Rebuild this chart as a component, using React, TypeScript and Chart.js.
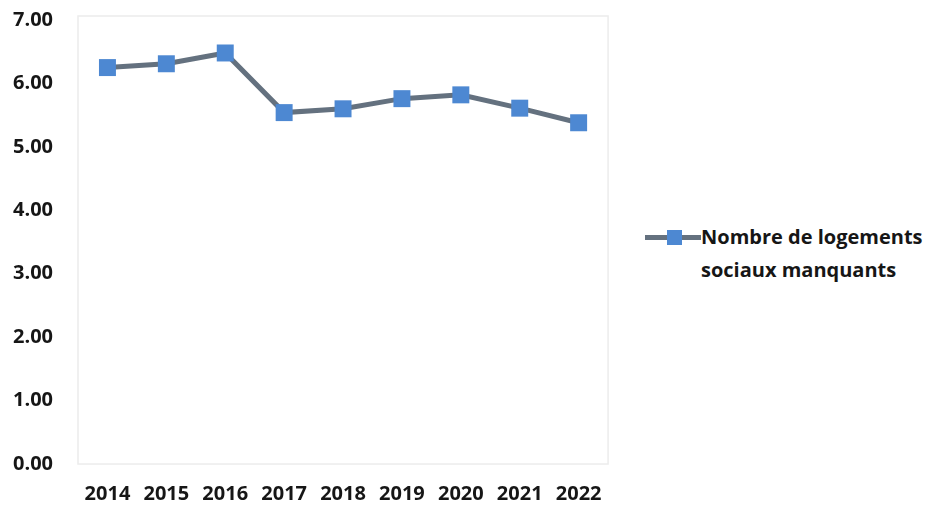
import React, { useEffect, useRef } from "react";
import { Chart, registerables } from "chart.js";

Chart.register(...registerables);

const years = ["2014", "2015", "2016", "2017", "2018", "2019", "2020", "2021", "2022"];
const missingHousing = [6.25, 6.31, 6.48, 5.54, 5.6, 5.76, 5.82, 5.61, 5.38];
const seriesLabel = ["Nombre de logements", "sociaux manquants"];
const yMin = 0;
const yMax = 7;
const yStep = 1;

const LINE_COLOR = "#64717f";
const MARKER_COLOR = "#4d88d2";
const TEXT_COLOR = "#161616";
const FONT = "'Open Sans', 'Liberation Sans', sans-serif";

const frame = {
  id: "frame",
  beforeDatasetsDraw(chart: any) {
    const { ctx, chartArea } = chart;
    ctx.save();
    ctx.strokeStyle = "#ececec";
    ctx.lineWidth = 1.5;
    ctx.strokeRect(chartArea.left, chartArea.top - 4, chartArea.right - chartArea.left, chartArea.bottom - chartArea.top + 4);
    ctx.restore();
  },
};

export default function App() {
  const ref = useRef<HTMLCanvasElement | null>(null);

  useEffect(() => {
    if (!ref.current) return;
    const chart = new Chart(ref.current, {
      type: "line",
      data: {
        labels: years,
        datasets: [
          {
            label: seriesLabel.join(" "),
            data: missingHousing,
            borderColor: LINE_COLOR,
            borderWidth: 5,
            pointStyle: "rect",
            pointRadius: 12,
            pointBackgroundColor: MARKER_COLOR,
            pointBorderColor: MARKER_COLOR,
            pointBorderWidth: 0,
            tension: 0,
          },
        ],
      },
      options: {
        animation: false,
        responsive: false,
        maintainAspectRatio: false,
        layout: { autoPadding: false, padding: { top: 20, right: 9, left: 13, bottom: 0 } },
        plugins: { legend: { display: false }, tooltip: { enabled: false } },
        scales: {
          x: {
            offset: true,
            grid: { display: false, drawTicks: false },
            border: { display: false },
            ticks: {
              color: TEXT_COLOR,
              padding: 18,
              maxRotation: 0,
              autoSkip: false,
              font: { family: FONT, size: 20, weight: "bold" },
            },
            afterFit: (s: any) => {
              s.height = 42;
            },
          },
          y: {
            min: yMin,
            max: yMax,
            grid: { display: false, drawTicks: false },
            border: { display: false },
            ticks: {
              stepSize: yStep,
              color: TEXT_COLOR,
              padding: 0,
              crossAlign: "far",
              font: { family: FONT, size: 20, weight: "bold" },
              callback: (v: any) => Number(v).toFixed(2),
            },
            afterFit: (s: any) => {
              s.width = 65;
            },
          },
        },
      },
      plugins: [frame],
    });
    return () => chart.destroy();
  }, []);

  return (
    <div style={{ position: "absolute", left: 0, top: 0, width: 930, height: 506, background: "#ffffff", overflow: "hidden" }}>
      <canvas ref={ref} width={620} height={506} style={{ position: "absolute", left: 0, top: 0 }} />
      <div style={{ position: "absolute", left: 645, top: 235, width: 56, height: 5, background: LINE_COLOR }} />
      <div style={{ position: "absolute", left: 667, top: 230, width: 15, height: 15, background: MARKER_COLOR }} />
      <div
        style={{
          position: "absolute",
          left: 701,
          top: 220,
          fontFamily: FONT,
          fontWeight: 700,
          fontSize: 20,
          lineHeight: "33px",
          color: TEXT_COLOR,
          whiteSpace: "nowrap",
        }}
      >
        {seriesLabel.map((t) => (
          <div key={t}>{t}</div>
        ))}
      </div>
    </div>
  );
}
